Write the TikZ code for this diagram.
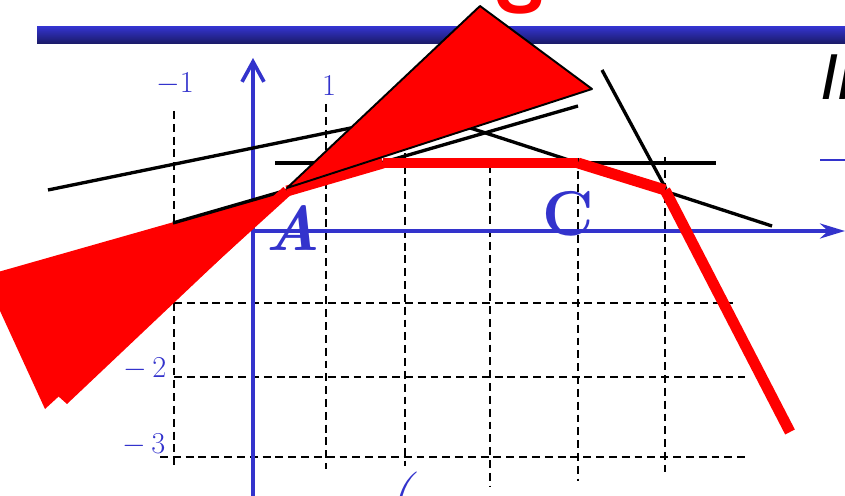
\documentclass[tikz,border=0pt]{standalone}
\usepackage{fontspec}
\newfontfamily\sansfont{Liberation Sans}
\usetikzlibrary{arrows.meta}
\definecolor{axisblue}{RGB}{51,51,204}
\definecolor{bardark}{RGB}{26,26,100}

\begin{document}
\begin{tikzpicture}[x=0.02cm, y=-0.02cm, line join=round,
    gridline/.style={dash pattern=on 4.5pt off 2.8pt, line width=1.2pt},
    tangent/.style={line width=1.9pt},
    redseg/.style={red, line width=6.2pt},
    axisline/.style={axisblue, line width=2.1pt},
    ticklabel/.style={axisblue, inner sep=0pt, font=\fontsize{18}{18}\selectfont},
    pointlabel/.style={axisblue, inner sep=0pt, font=\fontsize{36}{36}\selectfont\bfseries}]
  \useasboundingbox (0,0) rectangle (845,496);
  \clip (0,0) rectangle (845,496);
  \shade[top color=axisblue, middle color=axisblue, bottom color=bardark] (37,27) rectangle (845,44);
  \foreach \x/\ya/\yb in {174/111/467, 326/104/469, 405/140/466, 490/165/487, 578/158/481, 665/157/472}
    \draw[gridline] (\x,\ya) -- (\x,\yb);
  \foreach \y/\xa/\xb in {303/174/733, 377/174/745, 457/160/748}
    \draw[gridline] (\xa,\y) -- (\xb,\y);
  \draw[axisline, -{Straight Barb[length=0.4cm, width=0.44cm]}] (253,496) -- (253,58);
  \draw[axisline, -{Stealth[length=0.5cm, width=0.3cm]}] (253,231) -- (845,231);
  \node[ticklabel] (xm1) at (175,84) {$-1$};
  \node[ticklabel] (xp1) at (329,86) {$1$};
  \node[ticklabel] (ym2) at (145,369) {$-\,2$};
  \node[ticklabel] (ym3) at (144,445) {$-\,3$};
  \fill[red] (283,191) -- (-16,276) -- (45,409) -- cycle;
  \fill[red] (289,194) -- (40,380) -- (67,404) -- cycle;
  \draw[tangent] (48,190) -- (424,113) -- (772,226);
  \draw[tangent] (173,223) -- (578,106);
  \draw[tangent] (275,163) -- (716,163);
  \draw[tangent] (602,70) -- (666,189);
  \coordinate (p0) at (200,270);
  \coordinate (p1) at (287,191);
  \coordinate (p2) at (383,163);
  \coordinate (p3) at (578,163);
  \coordinate (p4) at (665,190);
  \coordinate (p5) at (790,432);
  \foreach \a/\b in {p0/p1, p1/p2, p2/p3, p3/p4, p4/p5}
    \draw[redseg] (\a) -- (\b);
  \filldraw[fill=red, draw=black, line width=1.1pt] (287,188) -- (480,6) -- (592,89) -- cycle;
  \node[red, anchor=base, font=\sansfont\bfseries\fontsize{42}{42}\selectfont] (bigS) at (520,14) {S};
  \node[anchor=base west, font=\sansfont\itshape\fontsize{37}{37}\selectfont] (heading) at (814,100) {In};
  \draw[axisblue, line width=1.7pt] (820,160) -- (845,160);
  \node[axisblue, anchor=north, inner sep=0pt, font=\fontsize{30}{30}\selectfont\itshape] (paren) at (401,472) {(};
  \node[pointlabel] (A) at (293,228) {\itshape A};
  \node[pointlabel] (C) at (568,214) {C};
\end{tikzpicture}
\end{document}
